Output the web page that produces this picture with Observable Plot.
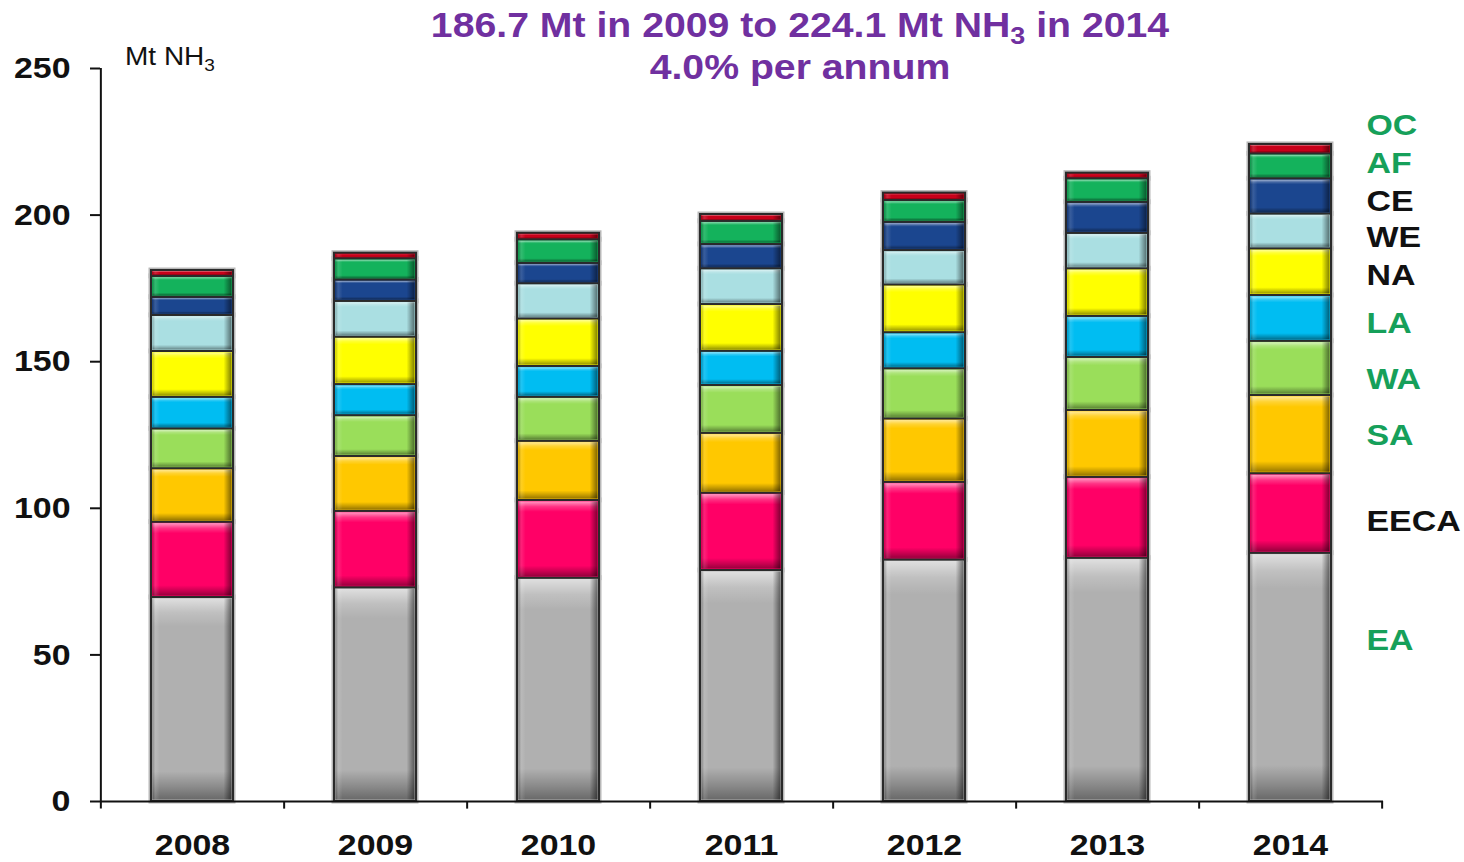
<!DOCTYPE html>
<html><head><meta charset="utf-8">
<script src="https://cdn.jsdelivr.net/npm/d3@7"></script>
<script src="https://cdn.jsdelivr.net/npm/@observablehq/plot@0.6"></script>
<style>
body{margin:0;background:#fff;font-family:"Liberation Sans",Arial,sans-serif;}
#wrap{position:relative;width:1464px;height:862px;overflow:hidden;}
.title{position:absolute;left:0;width:1600px;text-align:center;color:#7030a0;font-weight:bold;font-size:35px;line-height:40px;white-space:nowrap;transform:scaleX(1.12);transform-origin:800px 0;z-index:2;}
.unit{position:absolute;left:125px;top:42px;font-size:25px;line-height:28px;color:#111;transform:scaleX(1.12);transform-origin:0 0;z-index:2;}
.unit sub{font-size:17px;vertical-align:-6px;line-height:0;}
.title sub{font-size:24px;vertical-align:-7px;line-height:0;}
svg{position:absolute;left:0;top:0;}
</style></head>
<body><div id="wrap">
<div class="title" style="top:5px">186.7 Mt in 2009 to 224.1 Mt NH<sub>3</sub> in 2014</div>
<div class="title" style="top:47px">4.0% per annum</div>
<div class="unit">Mt NH<sub>3</sub></div>
</div>
<script>
const years = ["2008","2009","2010","2011","2012","2013","2014"];
const regions = ["EA","EECA","SA","WA","LA","NA","WE","CE","AF","OC"];
const EA   = [69.6, 72.9, 76.2, 78.8, 82.4, 83.0, 84.7];
const EECA = [25.7, 26.1, 26.5, 26.4, 26.5, 27.6, 27.1];
const SA   = [18.2, 18.7, 20.2, 20.4, 21.6, 22.8, 26.7];
const WA   = [13.6, 13.9, 15.0, 16.3, 17.1, 18.1, 18.5];
const LA   = [10.8, 10.6, 10.5, 11.7, 12.3, 14.0, 15.6];
const NA   = [15.6, 16.2, 16.2, 15.9, 16.3, 16.2, 15.9];
const WE   = [12.3, 12.2, 12.0, 12.2, 11.7, 12.1, 11.9];
const CE   = [6.2, 7.3, 7.0, 8.3, 9.7, 10.6, 12.0];
const AF   = [7.1, 7.2, 8.0, 7.9, 7.4, 8.0, 8.5];
const OC   = [2.0, 1.9, 2.2, 2.3, 2.5, 1.9, 3.2];
const colors = ["#b0b0b0","#ff0066","#ffc800","#9ade5a","#00bdf2","#ffff00","#aadfe2","#1b468f","#14b25c","#c8001a"];
const labelColors = ["#16a05a","#111111","#16a05a","#16a05a","#16a05a","#111111","#111111","#111111","#16a05a","#16a05a"];
const labelY = [54.9, 95.5, 124.8, 143.9, 163.0, 179.4, 192.3, 204.6, 217.6, 230.6];
const yTicks = [0, 50, 100, 150, 200, 250];

const series = {EA, EECA, SA, WA, LA, NA, WE, CE, AF, OC};
const table = [];
regions.forEach(r => years.forEach((y, i) => table.push({year: y, region: r, value: series[r][i]})));
const labels = regions.map((r, i) => ({region: r, y: labelY[i], color: labelColors[i]}));

const W = 1464, H = 862, ML = 100, MR = 81, MT = 68, MB = 61;
const step = (W - ML - MR) / years.length;
const font = '"Liberation Sans", Arial, sans-serif';
const ins = {insetTop: 1.5, insetBottom: 1.5, insetLeft: 1.5, insetRight: 1.5};

const stackOpts = {x: "year", y: "value", z: "region", order: regions};
const plot = Plot.plot({
  width: W, height: H,
  marginLeft: ML, marginRight: MR, marginTop: MT, marginBottom: MB,
  style: {fontFamily: font, background: "transparent", overflow: "visible"},
  x: {domain: years, paddingInner: 0.55, paddingOuter: 0.275},
  y: {domain: [0, 250]},
  color: {domain: regions, range: colors},
  marks: [
    Plot.barY(table, Plot.stackY({...stackOpts, fill: "none", stroke: "#b8b8b8", strokeWidth: 5})),
    Plot.barY(table, Plot.stackY({...stackOpts, fill: "region", stroke: "#2a2a2a", strokeWidth: 2})),
    Plot.barY(table, Plot.stackY({...stackOpts, fill: "url(#bevV)", ...ins})),
    Plot.barY(table, Plot.stackY({...stackOpts, fill: "url(#bevH)", ...ins})),
    Plot.ruleY([0], {stroke: "#111", strokeWidth: 2}),
    Plot.ruleX([years[0]], {x: d => d, dx: -step / 2, y1: -2.6, y2: 250, stroke: "#111", strokeWidth: 2}),
    Plot.ruleX(years, {x: d => d, dx: step / 2, y1: 0, y2: -2.6, stroke: "#111", strokeWidth: 2}),
    Plot.axisY({ticks: yTicks, tickSize: 10, tickPadding: 20, fontSize: 30, fontWeight: "bold", stroke: "#111", strokeWidth: 2, label: null, fill: "#111"}),
    Plot.axisX({tickSize: 0, tickPadding: 32, fontSize: 30, fontWeight: "bold", label: null, fill: "#111"}),
    Plot.text(labels, {x: () => years[years.length - 1], y: "y", text: "region", fill: "color", dx: 76, textAnchor: "start", fontSize: 30, fontWeight: "bold"})
  ]
});

const defs = d3.create("svg:defs");
const gv = defs.append("linearGradient").attr("id", "bevV").attr("x1", 0).attr("y1", 0).attr("x2", 0).attr("y2", 1);
[[0, "#fff", 0.6], [0.07, "#fff", 0.2], [0.14, "#fff", 0], [0.86, "#000", 0], [0.94, "#000", 0.22], [1, "#000", 0.4]]
  .forEach(([o, c, a]) => gv.append("stop").attr("offset", o).attr("stop-color", c).attr("stop-opacity", a));
const gh = defs.append("linearGradient").attr("id", "bevH").attr("x1", 0).attr("y1", 0).attr("x2", 1).attr("y2", 0);
[[0, "#000", 0.25], [0.04, "#fff", 0.12], [0.09, "#fff", 0], [0.9, "#000", 0], [0.96, "#000", 0.3], [1, "#000", 0.5]]
  .forEach(([o, c, a]) => gh.append("stop").attr("offset", o).attr("stop-color", c).attr("stop-opacity", a));
plot.insertBefore(defs.node(), plot.firstChild);

const wrap = document.getElementById("wrap");
wrap.insertBefore(plot, wrap.firstChild);
// horizontal stretch of the texts, as in the reference
plot.querySelectorAll("text").forEach(t => {
  const len = t.getComputedTextLength();
  if (len > 0) { t.setAttribute("textLength", (len * 1.13).toFixed(1)); t.setAttribute("lengthAdjust", "spacingAndGlyphs"); }
});
</script>
</body></html>
